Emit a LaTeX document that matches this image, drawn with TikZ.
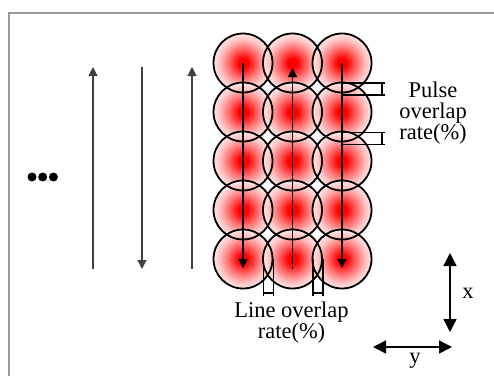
\documentclass[tikz,border=0pt]{standalone}
\usepackage{fontspec}
\setmainfont{Liberation Serif}
\usetikzlibrary{positioning}
\usetikzlibrary{calc}
\usetikzlibrary{arrows.meta}

\pgfdeclareradialshading{spotglow}{\pgfpoint{0bp}{0bp}}{color(0bp)=(red); color(4bp)=(red); color(13bp)=(red!55); color(20bp)=(red!24); color(25bp)=(red!10); color(50bp)=(white)}

\begin{document}
\begin{tikzpicture}[x=1pt, y=-1pt,
    every node/.style={inner sep=0pt, font=\fontsize{22.5}{21}\selectfont},
    spot/.style={circle, minimum size=59pt, shading=spotglow},
    ring/.style={circle, minimum size=59pt, draw, line width=1.8pt},
    scan/.style={-{Triangle[width=9pt, length=9pt]}, line width=1.2pt},
    axis/.style={{Triangle[width=13pt, length=13pt]}-{Triangle[width=13pt, length=13pt]}, line width=1.5pt},
    gauge/.style={line width=1.2pt}]

        \useasboundingbox (0,0) rectangle (494,376);
        \draw[line width=1.5pt, gray!80] (9,376) -- (9,13) -- (494,13);

        \def\dx{49.5} % Distance between scan lines
        \def\dy{49} % Distance between pulses

        % 5 pulses on each of 3 scan lines
        \foreach \i in {1,...,5} {
          \foreach \j in {1,...,3} {
            \node[spot] (s\i\j) at ({243+\dx*(\j-1)}, {63+\dy*(\i-1)}) {};
          }
        }
        \foreach \i in {1,...,5} {
          \foreach \j in {1,...,3} {
            \node[ring] (r\i\j) at (s\i\j) {};
          }
        }

        \draw[scan] (s11.center) -- ($(s51.center)+(0,9)$);
        \draw[scan] ($(s52.center)+(0,10)$) -- ($(s12.center)+(0,5)$);
        \draw[scan] (s13.center) -- ($(s53.center)+(0,9)$);

        \foreach \k/\x in {1/93, 2/142, 3/192} {
          \coordinate (p\k) at (\x, 269);
          \coordinate (q\k) at (\x, 67);
        }

        \draw[scan, black!75] (p1) -- (q1);
        \draw[scan, black!75] (q2) -- (p2);
        \draw[scan, black!75] (p3) -- (q3);

        \foreach \k in {0,1,2} {
          \node[circle, fill=black, minimum size=9pt] (dot\k) at ({32+10.7*\k}, 177) {};
        }

        % overlap gauges
        \foreach \y/\z in {83/95, 132.5/144.5} {
          \draw[gauge] (343,\y) -- (385,\y);
          \draw[gauge] (343,\z) -- (385,\z);
          \draw[gauge] (382,\y) -- (382,\z);
        }
        \foreach \x/\w in {263.5/273.5, 313/323} {
          \draw[gauge] (\x,259) -- (\x,296);
          \draw[gauge] (\w,259) -- (\w,296);
          \draw[gauge] (\x,293) -- (\w,293);
        }

        \node[anchor=north, align=center] (pulse) at (433,81.5) {Pulse\\overlap\\rate(\%)};
        \node[anchor=north, align=center] (lineov) at (291.5,301.5) {Line overlap\\rate(\%)};

        \coordinate (xt) at (450,253);
        \coordinate (xb) at (450,332);
        \draw[axis] (xt) -- (xb);
        \node[anchor=base] (xlab) at (468,298) {x};

        \coordinate (yl) at (373,347);
        \coordinate (yr) at (452,347);
        \draw[axis] (yl) -- (yr);
        \node[anchor=base] (ylab) at (415,363) {y};

      \end{tikzpicture}
\end{document}
